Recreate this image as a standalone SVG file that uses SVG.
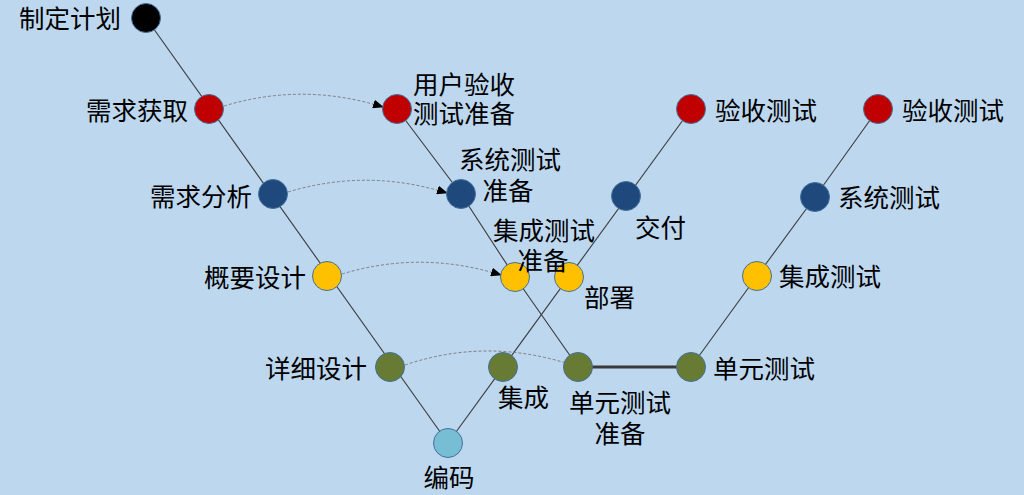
<svg xmlns="http://www.w3.org/2000/svg" width="1024" height="495" viewBox="0 0 1024 495">
<defs>
<style>
.bg{fill:#BDD7EE}
.ln{stroke:#3A3A3A;stroke-width:1.1;fill:none}
.thick{stroke:#3A3A3A;stroke-width:3;fill:none}
.dash{stroke:#7F7F7F;stroke-width:1;stroke-dasharray:3,2;fill:none;marker-end:url(#ah)}
.n{stroke:#41719C;stroke-width:1}
.k{fill:#000000}
.r{fill:#C00000}
.b{fill:#1F497D}
.y{fill:#FFC000}
.g{fill:#677B34}
.c{fill:#77BED5}
text{font-family:"Noto Sans CJK SC","Noto Sans",sans-serif;font-size:25.5px;fill:#000}
.e{text-anchor:end}
.m{text-anchor:middle}
</style>
<marker id="ah" markerWidth="11" markerHeight="9" refX="10" refY="4.5" orient="auto" markerUnits="userSpaceOnUse">
<path d="M0,0 L11,4.5 L0,9 z" fill="#000"/>
</marker>
</defs>
<rect class="bg" x="0" y="0" width="1024" height="495"/>
<g id="connectors">
<path class="ln" d="M146,18 L448,443"/>
<path class="ln" d="M448,443 L691,109"/>
<path class="ln" d="M397,109 L461,194 L515,277 L578,367"/>
<path class="thick" d="M578,367 L691,367"/>
<path class="ln" d="M691,367 L757,276 L815,197 L878,109"/>
<path class="dash" d="M224,106 Q303,82 383,107"/>
<path class="dash" d="M288,192 Q367,168 447,193"/>
<path class="dash" d="M342,274 Q421,250 501,275"/>
<path class="dash" d="M405,365 Q490,336 578,367"/>
</g>
<g id="n-plan"><circle class="n k" cx="146" cy="18" r="14.5"/><text class="e" x="121" y="28">制定计划</text></g>
<g id="n-req-get"><circle class="n r" cx="209" cy="109" r="14.5"/><text class="e" x="188" y="120">需求获取</text></g>
<g id="n-req-ana"><circle class="n b" cx="273" cy="194" r="14.5"/><text class="e" x="252" y="206">需求分析</text></g>
<g id="n-hl-design"><circle class="n y" cx="327" cy="276" r="14.5"/><text class="e" x="306" y="287">概要设计</text></g>
<g id="n-dt-design"><circle class="n g" cx="390" cy="367" r="14.5"/><text class="e" x="367" y="378">详细设计</text></g>
<g id="n-code"><circle class="n c" cx="448" cy="443" r="14.5"/><text class="m" x="449" y="487">编码</text></g>
<g id="n-integ"><circle class="n g" cx="503" cy="367" r="14.5"/><text x="498" y="407">集成</text></g>
<g id="n-deploy"><circle class="n y" cx="569" cy="277" r="14.5"/><text x="584" y="307">部署</text></g>
<g id="n-deliver"><circle class="n b" cx="626" cy="196" r="14.5"/><text x="635" y="237">交付</text></g>
<g id="n-acc-test-1"><circle class="n r" cx="691" cy="109" r="14.5"/><text x="715" y="120">验收测试</text></g>
<g id="n-uat-prep"><circle class="n r" cx="397" cy="109" r="14.5"/><text x="413" y="94">用户验收<tspan x="413" y="123">测试准备</tspan></text></g>
<g id="n-sys-prep"><circle class="n b" cx="461" cy="194" r="14.5"/><text class="m" x="510" y="169">系统测试<tspan x="508" y="200">准备</tspan></text></g>
<g id="n-int-prep"><circle class="n y" cx="515" cy="277" r="14.5"/><text class="m" x="544" y="240">集成测试<tspan x="543" y="270">准备</tspan></text></g>
<g id="n-unit-prep"><circle class="n g" cx="578" cy="367" r="14.5"/><text class="m" x="620" y="412">单元测试<tspan x="620" y="443">准备</tspan></text></g>
<g id="n-unit"><circle class="n g" cx="691" cy="367" r="14.5"/><text x="713" y="378">单元测试</text></g>
<g id="n-int-test"><circle class="n y" cx="757" cy="276" r="14.5"/><text x="779" y="286">集成测试</text></g>
<g id="n-sys-test"><circle class="n b" cx="815" cy="197" r="14.5"/><text x="838" y="207">系统测试</text></g>
<g id="n-acc-test-2"><circle class="n r" cx="878" cy="109" r="14.5"/><text x="902" y="120">验收测试</text></g>
</svg>
